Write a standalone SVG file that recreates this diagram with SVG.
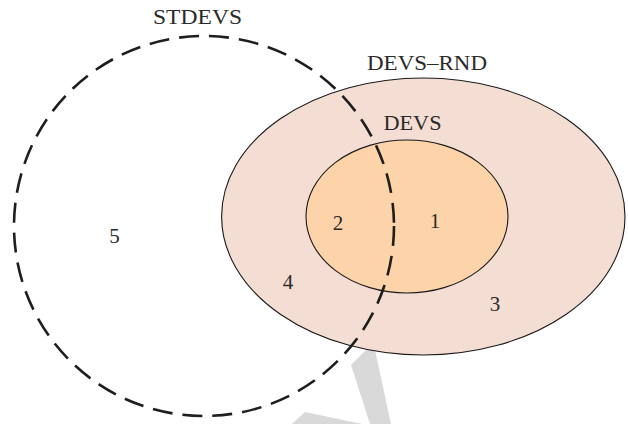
<svg xmlns="http://www.w3.org/2000/svg" width="628" height="424" viewBox="0 0 628 424">
<style>
  .lbl { font-family: "Liberation Serif", "DejaVu Serif", serif; font-size: 21px; fill: #2a2a2a; text-anchor: middle; }
  .set { stroke: #1a1a1a; stroke-width: 1.1; }
  .dash { fill: none; stroke: #1e1e1e; stroke-width: 2.6; stroke-dasharray: 20 10; }
  .wm { fill: #d9d9d9; }
</style>
<rect width="628" height="424" fill="#ffffff"/>
<g id="watermark">
  <polygon class="wm" points="351,365 366,350 375,350 391,424 370,424"/>
  <polygon class="wm" points="305,412 362,424 292,424"/>
</g>
<g id="devs-rnd">
  <ellipse class="set" cx="423.3" cy="216.5" rx="201.7" ry="138.5" fill="#f4ddd3"/>
  <text class="lbl" x="427" y="70" textLength="120" lengthAdjust="spacingAndGlyphs">DEVS–RND</text>
</g>
<g id="devs">
  <ellipse class="set" cx="407" cy="216.5" rx="101" ry="76.5" fill="#fdd3a9"/>
  <text class="lbl" x="412.5" y="130" textLength="58" lengthAdjust="spacingAndGlyphs">DEVS</text>
</g>
<g id="stdevs">
  <circle class="dash" cx="204" cy="226" r="190"/>
  <text class="lbl" x="197.5" y="24" textLength="89" lengthAdjust="spacingAndGlyphs">STDEVS</text>
</g>
<g id="regions">
  <text class="lbl" x="435" y="228">1</text>
  <text class="lbl" x="338" y="230">2</text>
  <text class="lbl" x="495" y="311">3</text>
  <text class="lbl" x="288" y="289">4</text>
  <text class="lbl" x="114.5" y="243">5</text>
</g>
<g id="connectors"></g>
</svg>
